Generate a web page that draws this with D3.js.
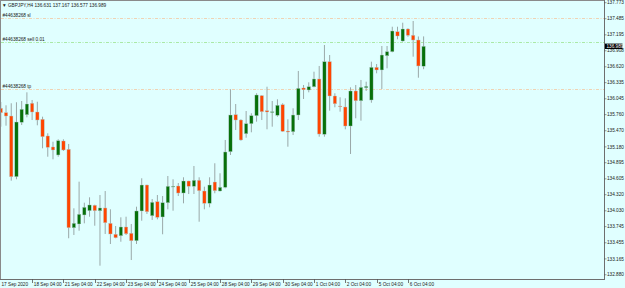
<!DOCTYPE html>
<html>
<head>
<meta charset="utf-8">
<script src="https://cdn.jsdelivr.net/npm/d3@7"></script>
<style>
  html, body { margin: 0; padding: 0; background: #e0ffff; }
  svg { display: block; }
  text { font-family: "Liberation Sans", Arial, sans-serif; font-size: 4.7px; fill: #1a1a1a; }
</style>
</head>
<body>
<div id="chart"></div>
<script>
// GBPJPY H4 bars, 17 Sep 2020 04:00 -> 6 Oct 2020 16:00
var symbol = "GBPJPY,H4";

var opens = [
  135.874, 135.795, 135.735, 134.644, 135.622, 135.759, 135.964, 135.807, 135.676, 135.376,
  135.178, 135.034, 135.286, 135.136, 133.726, 133.793, 133.955, 134.032, 134.129, 134.032,
  134.081, 133.805, 133.608, 133.582, 133.739, 133.626, 133.492, 134.027, 134.494, 133.942,
  134.194, 133.919, 134.176, 134.468, 134.476, 134.350, 134.566, 134.471, 134.579, 134.386,
  134.165, 134.548, 134.386, 134.453, 135.093, 135.759, 135.663, 135.417, 135.597, 135.741,
  136.100, 135.831, 135.810, 135.748, 135.938, 135.465, 135.453, 135.753, 136.239, 136.203,
  136.262, 136.401, 135.406, 136.712, 136.095, 135.915, 135.897, 135.555, 136.185, 136.010,
  136.244, 136.023, 136.611, 136.563, 136.820, 136.892, 137.251, 137.084, 137.300, 137.187,
  137.102, 136.631
];
var highs = [
  135.987, 135.928, 135.964, 135.982, 136.005, 136.161, 136.023, 135.992, 135.723, 135.424,
  135.273, 135.316, 135.316, 135.232, 134.075, 134.554, 134.176, 134.273, 134.140, 134.314,
  134.386, 134.057, 133.757, 133.913, 133.924, 133.793, 134.104, 134.615, 134.500, 134.242,
  134.314, 134.296, 134.656, 134.597, 134.530, 134.633, 134.570, 134.836, 134.633, 134.464,
  134.633, 134.885, 134.705, 135.304, 136.215, 135.951, 135.676, 135.825, 135.784, 136.144,
  136.110, 136.262, 136.005, 136.036, 135.964, 135.676, 135.874, 136.545, 136.293, 136.341,
  136.532, 136.635, 137.012, 136.832, 136.144, 136.072, 136.054, 136.251, 136.293, 136.383,
  136.352, 136.712, 136.670, 136.994, 136.994, 137.341, 137.341, 137.413, 137.313, 137.444,
  137.165, 137.167
];
var lows = [
  135.543, 135.561, 134.572, 134.597, 135.573, 135.712, 135.663, 135.568, 135.154, 135.003,
  134.956, 135.003, 135.106, 133.536, 133.595, 133.672, 133.805, 133.924, 133.762, 133.043,
  133.613, 133.433, 133.536, 133.474, 133.595, 133.145, 133.433, 133.852, 133.973, 133.865,
  133.877, 133.608, 134.057, 134.032, 134.296, 134.165, 134.332, 134.332, 133.834, 134.057,
  134.093, 134.345, 134.380, 134.435, 135.034, 135.483, 135.291, 135.345, 135.442, 135.633,
  135.663, 135.496, 135.543, 135.723, 135.453, 135.183, 135.393, 135.663, 136.041, 136.161,
  136.251, 135.363, 135.363, 135.831, 135.892, 135.813, 135.496, 135.052, 135.694, 135.651,
  136.185, 135.974, 136.503, 136.221, 136.593, 136.881, 137.115, 137.072, 137.161, 136.802,
  136.424, 136.577
];
var closes = [
  135.795, 135.735, 134.644, 135.627, 135.856, 135.951, 135.807, 135.663, 135.363, 135.172,
  135.124, 135.291, 135.124, 133.726, 133.805, 133.967, 134.093, 134.135, 134.032, 134.081,
  133.816, 133.613, 133.546, 133.739, 133.618, 133.492, 134.027, 134.494, 134.014, 134.183,
  133.913, 134.176, 134.471, 134.472, 134.350, 134.566, 134.471, 134.579, 134.392, 134.165,
  134.494, 134.392, 134.453, 135.088, 135.753, 135.663, 135.304, 135.597, 135.741, 136.113,
  135.813, 135.807, 135.812, 135.928, 135.460, 135.447, 135.753, 136.233, 136.208, 136.262,
  136.401, 135.411, 136.712, 136.095, 135.956, 135.902, 135.555, 136.185, 136.010, 136.251,
  136.269, 136.611, 136.563, 136.832, 136.892, 137.264, 137.174, 137.300, 137.187, 137.102,
  136.635, 136.989
];

// time axis labels and the bar each one sits on
var dateLabels = ["17 Sep 2020", "18 Sep 04:00", "21 Sep 04:00", "22 Sep 04:00", "23 Sep 04:00",
  "24 Sep 04:00", "25 Sep 04:00", "28 Sep 04:00", "29 Sep 04:00", "30 Sep 04:00",
  "1 Oct 04:00", "2 Oct 04:00", "5 Oct 04:00", "6 Oct 04:00"];
var dateBars = [0, 6, 12, 18, 24, 30, 36, 42, 48, 54, 60, 66, 72, 78];

var priceTicks = [137.773, 137.485, 137.195, 136.908, 136.620, 136.335, 136.045, 135.760, 135.470,
  135.180, 134.895, 134.605, 134.320, 134.030, 133.745, 133.455, 133.165, 132.880];

// order lines
var orderNames = ["#44638268 sl", "#44638268 sell 0.01", "#44638268 tp"];
var orderPrices = [137.492, 137.061, 136.221];
var orderColors = ["#f1ceac", "#a4e69c", "#f1ceac"];

var bidPrice = 136.989;

var width = 625, height = 288;
var plotRight = 604, plotBottom = 279;

var svg = d3.select("#chart").append("svg")
  .attr("width", width)
  .attr("height", height);

svg.append("rect")
  .attr("width", width)
  .attr("height", height)
  .attr("fill", "#e0ffff");

var x = d3.scaleLinear().domain([0, 81]).range([0.8, 423.6]);
var y = d3.scaleLinear().domain([132.880, 137.773]).range([274.75, 2.7]);

// order lines behind the bars
var orders = svg.append("g");
orderPrices.forEach(function (p, i) {
  orders.append("line")
    .attr("x1", 1).attr("x2", plotRight)
    .attr("y1", Math.round(y(p)) + 0.5).attr("y2", Math.round(y(p)) + 0.5)
    .attr("stroke", orderColors[i])
    .attr("stroke-width", 0.9)
    .attr("stroke-dasharray", "3,1.5,1,1.5");
  orders.append("text")
    .attr("x", 2.5)
    .attr("y", Math.round(y(p)) - 1.2)
    .text(orderNames[i]);
});

// candles
var bars = d3.range(opens.length);
var bodyW = 3.4;

svg.append("g").selectAll("line")
  .data(bars)
  .enter()
  .append("line")
  .attr("x1", function (i) { return x(i); })
  .attr("x2", function (i) { return x(i); })
  .attr("y1", function (i) { return y(highs[i]); })
  .attr("y2", function (i) { return y(lows[i]); })
  .attr("stroke", "#929e9e")
  .attr("stroke-width", 0.9);

svg.append("g").selectAll("rect")
  .data(bars)
  .enter()
  .append("rect")
  .attr("x", function (i) { return x(i) - bodyW / 2; })
  .attr("width", bodyW)
  .attr("y", function (i) { return y(Math.max(opens[i], closes[i])); })
  .attr("height", function (i) { return Math.max(0.8, Math.abs(y(opens[i]) - y(closes[i]))); })
  .attr("fill", function (i) { return closes[i] >= opens[i] ? "#07700a" : "#ff4500"; })
  .attr("stroke", "#b4cccc")
  .attr("stroke-width", 0.4);

// frame
svg.append("line").attr("x1", 0).attr("x2", plotRight).attr("y1", 0.5).attr("y2", 0.5)
  .attr("stroke", "#8a8a8a").attr("stroke-width", 1);
svg.append("line").attr("x1", 0.5).attr("x2", 0.5).attr("y1", 0).attr("y2", plotBottom)
  .attr("stroke", "#8a8a8a").attr("stroke-width", 1);

// time axis
svg.append("line").attr("x1", 0).attr("x2", plotRight + 0.5).attr("y1", plotBottom + 0.5).attr("y2", plotBottom + 0.5)
  .attr("stroke", "#6e6e6e").attr("stroke-width", 1);
var xAxis = svg.append("g");
dateBars.forEach(function (b, i) {
  var px = x(b);
  if (i > 0) {
    xAxis.append("line")
      .attr("x1", Math.round(px) + 0.5).attr("x2", Math.round(px) + 0.5)
      .attr("y1", plotBottom).attr("y2", plotBottom + 4)
      .attr("stroke", "#555").attr("stroke-width", 0.8);
  }
  xAxis.append("text")
    .attr("x", i > 0 ? Math.round(px) + 1.8 : 1.5)
    .attr("y", 286)
    .text(dateLabels[i]);
});

// price axis
svg.append("line").attr("x1", plotRight + 0.5).attr("x2", plotRight + 0.5).attr("y1", 0).attr("y2", plotBottom + 1)
  .attr("stroke", "#6e6e6e").attr("stroke-width", 1);
var yAxis = svg.append("g");
priceTicks.forEach(function (p) {
  yAxis.append("line")
    .attr("x1", plotRight).attr("x2", plotRight + 2.5)
    .attr("y1", y(p)).attr("y2", y(p))
    .attr("stroke", "#555").attr("stroke-width", 0.6);
  yAxis.append("text")
    .attr("x", 607)
    .attr("y", y(p))
    .attr("dy", "0.35em")
    .text(p.toFixed(3));
});

// current bid label
svg.append("rect")
  .attr("x", plotRight + 1)
  .attr("y", y(bidPrice) - 2.7)
  .attr("width", 17.5)
  .attr("height", 5.4)
  .attr("fill", "#000");
svg.append("text")
  .attr("x", 606.5)
  .attr("y", y(bidPrice))
  .attr("dy", "0.35em")
  .style("fill", "#fff")
  .text(bidPrice.toFixed(3));

// header
var last = opens.length - 1;
svg.append("text")
  .attr("x", 2)
  .attr("y", 6.5)
  .text("\u25BC " + symbol + "  " + opens[last].toFixed(3) + " " + highs[last].toFixed(3) + " " +
    lows[last].toFixed(3) + " " + closes[last].toFixed(3));
</script>
</body>
</html>
